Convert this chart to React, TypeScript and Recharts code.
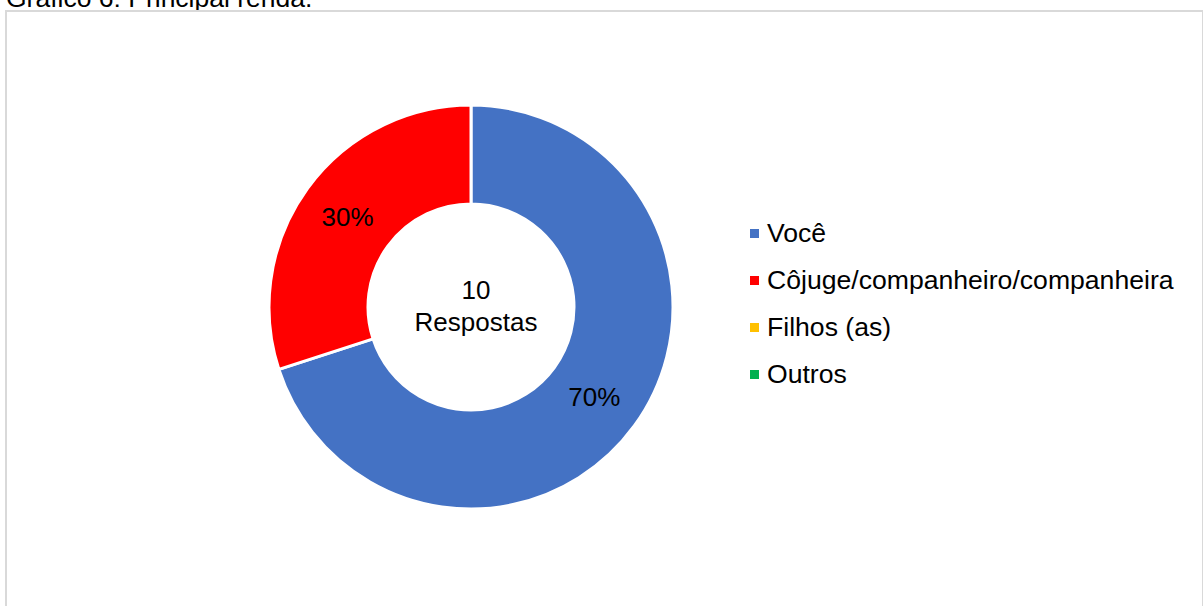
import { PieChart, Pie, Cell, Legend } from 'recharts';

const categories = ['Você', 'Côjuge/companheiro/companheira', 'Filhos (as)', 'Outros'];
const responses = [7, 3, 0, 0];
const colors = ['#4472C4', '#FF0000', '#FFC000', '#00B050'];
const totalLabel = ['10', 'Respostas'];

const FONT = '"Liberation Sans", Arial, sans-serif';
const RADIAN = Math.PI / 180;
const CX = 471;
const CY = 307;

const pieData = categories
    .map((name, i) => ({ name, value: responses[i], color: colors[i] }))
    .filter(d => d.value > 0);

function renderSliceLabel(props: any) {
    const { cx, cy, midAngle, innerRadius, outerRadius, percent } = props;
    const r = (innerRadius + outerRadius) / 2;
    const x = cx + r * Math.cos(-midAngle * RADIAN);
    const y = cy + r * Math.sin(-midAngle * RADIAN);
    return (
        <text x={x} y={y} textAnchor="middle" dominantBaseline="central" fill="#000" fontSize={26} fontFamily={FONT}>
            {`${Math.round(percent * 100)}%`}
        </text>
    );
}

function renderLegend() {
    return (
        <ul style={{ listStyle: 'none', margin: 0, padding: 0, fontFamily: FONT }}>
            {categories.map((name, i) => (
                <li key={name} style={{ display: 'flex', alignItems: 'center', height: 47 }}>
                    <span style={{ display: 'inline-block', width: 9, height: 9, background: colors[i], marginRight: 8 }} />
                    <span style={{ fontSize: 26.6, color: '#000' }}>{name}</span>
                </li>
            ))}
        </ul>
    );
}

export default function App() {
    return (
        <div style={{ position: 'absolute', left: 0, top: 0, width: 1203, height: 606, overflow: 'hidden', background: '#fff' }}>
            <div style={{ position: 'absolute', left: 6, top: -17, fontSize: 26.5, fontFamily: FONT, color: '#000', whiteSpace: 'nowrap' }}>
                Gráfico 6: Principal renda.
            </div>
            <div style={{ position: 'absolute', left: 5, top: 10, width: 1195, height: 620, border: '2px solid #d9d9d9' }} />
            <div style={{ position: 'absolute', left: 0, top: 0 }}>
                <PieChart width={1203} height={606} margin={{ top: 0, right: 0, bottom: 0, left: 0 }}>
                    <Pie
                        data={pieData}
                        dataKey="value"
                        nameKey="name"
                        cx={CX}
                        cy={CY}
                        innerRadius={103}
                        outerRadius={202}
                        startAngle={90}
                        endAngle={-270}
                        stroke="#fff"
                        strokeWidth={3}
                        label={renderSliceLabel}
                        labelLine={false}
                        isAnimationActive={false}
                    >
                        {pieData.map(d => (
                            <Cell key={d.name} fill={d.color} />
                        ))}
                    </Pie>
                    <text textAnchor="middle" fill="#000" fontSize={26} fontFamily={FONT}>
                        <tspan x={CX + 5} y={CY - 17} dominantBaseline="central">{totalLabel[0]}</tspan>
                        <tspan x={CX + 5} y={CY + 15} dominantBaseline="central">{totalLabel[1]}</tspan>
                    </text>
                    <Legend
                        layout="vertical"
                        content={renderLegend}
                        wrapperStyle={{ left: 750, top: 210, width: 450 }}
                    />
                </PieChart>
            </div>
        </div>
    );
}
